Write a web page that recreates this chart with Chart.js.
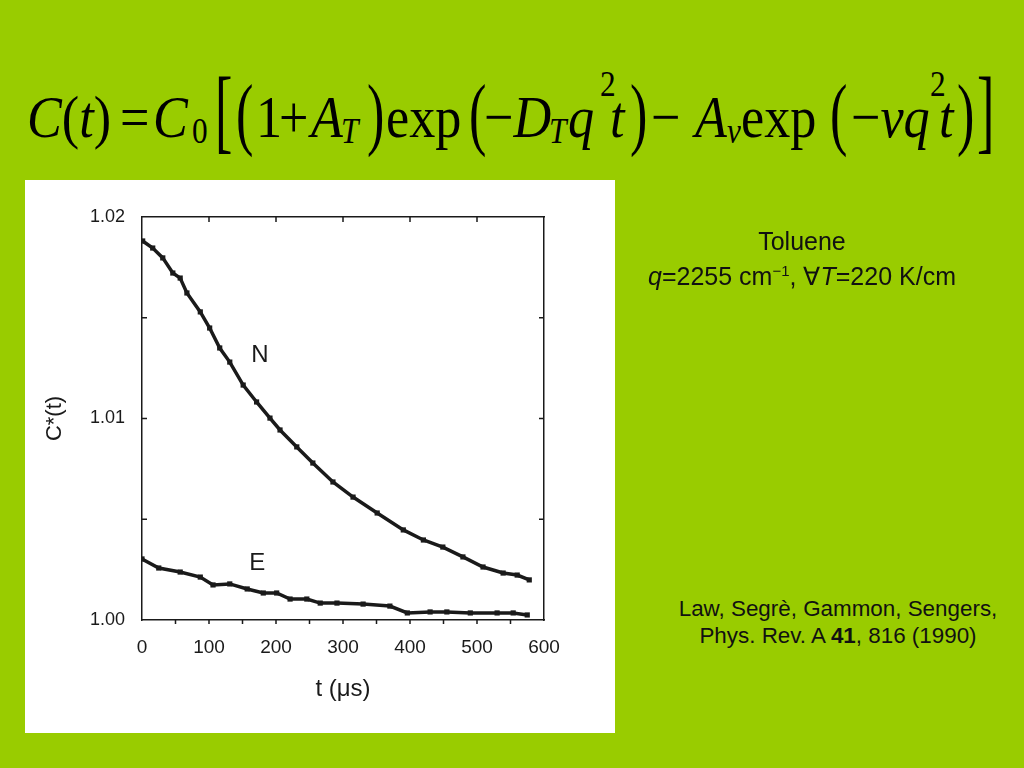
<!DOCTYPE html>
<html lang="en">
<head>
  <meta charset="UTF-8" />
  <title>C(t) Toluene</title>
  <script src="https://cdn.jsdelivr.net/npm/chart.js"></script>
  <style>
    html, body { margin: 0; padding: 0; }
    body { width: 1024px; height: 768px; background: #99cc00; position: relative; overflow: hidden;
           font-family: "Liberation Sans", Arial, sans-serif; color: #111; }
    #eq { position: absolute; left: 0; top: 0; width: 1024px; height: 170px;
          font-family: "Liberation Serif", "Times New Roman", serif; color: #000; }
    #eq span { position: absolute; white-space: nowrap; transform-origin: 0 0; transform: scaleX(0.87); }
    #eq .m { top: 87px; font-size: 60px; line-height: 60px; }
    #eq .s { top: 113px; font-size: 36px; line-height: 36px; }
    #eq .u { top: 66px; font-size: 36px; line-height: 36px; }
    #eq .p { top: 84px; font-size: 60px; line-height: 60px; transform-origin: 0 33px; transform: scale(0.87, 1.35); }
    #eq .b { top: 84px; font-size: 60px; line-height: 60px; transform-origin: 0 35px; transform: scale(0.87, 1.55); }
    #eq i { font-style: italic; }
    #box { position: absolute; left: 25px; top: 180px; width: 590px; height: 553px; background: #fff; }
    canvas { display: block; }
    .note { position: absolute; text-align: center; color: #111; }
    .note sup { font-size: 60%; vertical-align: 0.6em; }
  </style>
</head>
<body>
  <div id="eq">
    <span class="m" style="left:27px"><i>C</i>(<i>t</i>)</span>
    <span class="m" style="left:120px">=</span>
    <span class="m" style="left:153px"><i>C</i></span>
    <span class="s" style="left:192px">0</span>
    <span class="b" style="left:215px">[</span>
    <span class="p" style="left:236px">(</span>
    <span class="m" style="left:256px">1</span>
    <span class="m" style="left:279px">+</span>
    <span class="m" style="left:311px"><i>A</i></span>
    <span class="s" style="left:341px"><i>T</i></span>
    <span class="p" style="left:367px">)</span>
    <span class="m" style="left:386px">exp</span>
    <span class="p" style="left:469px">(</span>
    <span class="m" style="left:484px">−<i>D</i></span>
    <span class="s" style="left:549px"><i>T</i></span>
    <span class="m" style="left:568px"><i>q</i></span>
    <span class="u" style="left:600px">2</span>
    <span class="m" style="left:610px"><i>t</i></span>
    <span class="p" style="left:630px">)</span>
    <span class="m" style="left:651px">−</span>
    <span class="m" style="left:695px"><i>A</i></span>
    <span class="s" style="left:727px"><i>ν</i></span>
    <span class="m" style="left:741px">exp</span>
    <span class="p" style="left:830px">(</span>
    <span class="m" style="left:851px">−<i>ν</i><i>q</i></span>
    <span class="u" style="left:930px">2</span>
    <span class="m" style="left:939px"><i>t</i></span>
    <span class="p" style="left:957px">)</span>
    <span class="b" style="left:977px">]</span>
  </div>

  <div id="box"><canvas id="chart" width="590" height="553"></canvas></div>

  <div class="note" style="left:602px; top:226px; width:400px; font-size:25px; line-height:30px;">
    Toluene<br><i>q</i>=2255 cm<sup>−1</sup>, ∀<i>T</i>=220 K/cm
  </div>
  <div class="note" style="left:638px; top:595px; width:400px; font-size:22.4px; line-height:27px;">
    Law, Segrè, Gammon, Sengers,<br>Phys. Rev. A <b>41</b>, 816 (1990)
  </div>

  <script>
    // times in microseconds, values of C*(t)
    const tN = [1, 16, 31, 46, 57, 67, 87, 101, 116, 131, 151, 171, 191, 206, 231, 255, 285, 315, 351, 390, 420, 449, 479, 509, 539, 560, 578];
    const nVals = [1.01881, 1.01846, 1.01797, 1.01722, 1.01697, 1.01623, 1.01529, 1.01449, 1.0135, 1.0128, 1.01166, 1.01082, 1.01002,
                   1.00943, 1.00859, 1.00779, 1.00685, 1.0061, 1.00531, 1.00447, 1.00397, 1.00362, 1.00313, 1.00263, 1.00233, 1.00223, 1.00199];

    const tE = [0, 25, 57, 87, 106, 131, 157, 181, 201, 221, 246, 266, 291, 330, 370, 396, 430, 455, 490, 530, 554, 575];
    const eVals = [1.00303, 1.00258, 1.00238, 1.00213, 1.00174, 1.00179, 1.00154, 1.00134, 1.00134, 1.00104, 1.00104, 1.00084, 1.00084,
                   1.00079, 1.00069, 1.00035, 1.0004, 1.0004, 1.00035, 1.00035, 1.00035, 1.00025];

    const xTicks = [0, 100, 200, 300, 400, 500, 600];
    const yTicks = [1.00, 1.01, 1.02];

    // curve labels, in data coordinates
    const curveLabels = [
      { text: 'N', x: 176, y: 1.01315 },
      { text: 'E', x: 172, y: 1.00283 }
    ];

    const ink = '#1a1a1a';

    function pairs(xs, ys) { return xs.map((x, i) => ({ x: x, y: ys[i] })); }

    // inward tick marks on top, left and right, outward on the bottom, like the scan
    const frameTicks = {
      id: 'frameTicks',
      afterDraw(chart) {
        const c = chart.ctx, a = chart.chartArea;
        const xs = chart.scales.x, ys = chart.scales.y;
        c.save();
        c.strokeStyle = ink;
        c.lineWidth = 1.5;
        c.beginPath();
        xs.ticks.forEach(t => {
          const px = xs.getPixelForValue(t.value);
          if (t.value <= 0 || t.value >= 600) return;
          c.moveTo(px, a.bottom); c.lineTo(px, a.bottom + 4);
          if (t.value % 100 === 0) { c.moveTo(px, a.top); c.lineTo(px, a.top + 5); }
        });
        ys.ticks.forEach(t => {
          const py = ys.getPixelForValue(t.value);
          if (t.value <= 1.0001 || t.value >= 1.0199) return;
          c.moveTo(a.left, py); c.lineTo(a.left + 5, py);
          c.moveTo(a.right, py); c.lineTo(a.right - 5, py);
        });
        c.stroke();
        c.fillStyle = ink;
        c.font = '24px "Liberation Sans", Arial, sans-serif';
        c.textAlign = 'center';
        c.textBaseline = 'middle';
        curveLabels.forEach(l => c.fillText(l.text, xs.getPixelForValue(l.x), ys.getPixelForValue(l.y)));
        c.restore();
      }
    };

    const border = { display: true, color: ink, width: 1.5 };
    const quietGrid = { display: true, drawOnChartArea: false, drawTicks: false };
    const sans = '"Liberation Sans", Arial, sans-serif';

    const chart = new Chart(document.getElementById('chart').getContext('2d'), {
      type: 'line',
      data: {
        datasets: [
          { label: 'N', data: pairs(tN, nVals), borderColor: ink, backgroundColor: ink, borderWidth: 3.5,
            pointRadius: 1.2, pointStyle: 'rect', tension: 0 },
          { label: 'E', data: pairs(tE, eVals), borderColor: ink, backgroundColor: ink, borderWidth: 3.5,
            pointRadius: 1.2, pointStyle: 'rect', tension: 0 }
        ]
      },
      options: {
        responsive: false,
        animation: false,
        layout: { padding: { left: 0, top: 37, right: 71, bottom: 0 } },
        plugins: { legend: { display: false }, tooltip: { enabled: false } },
        scales: {
          x: {
            type: 'linear', position: 'bottom', min: 0, max: 600,
            afterFit: s => { s.height = 113; },
            border: border, grid: quietGrid,
            ticks: {
              stepSize: 50, color: ink, padding: 16, autoSkip: false, maxRotation: 0, minRotation: 0,
              font: { size: 19, family: sans },
              callback: v => xTicks.includes(v) ? String(v) : ''
            },
            title: { display: true, text: 't (μs)', color: ink, padding: { bottom: 29 },
                     font: { size: 24, family: sans } }
          },
          y: {
            type: 'linear', position: 'left', min: 1.0, max: 1.02,
            afterFit: s => { s.width = 117; },
            border: border, grid: quietGrid,
            ticks: {
              stepSize: 0.005, color: ink, padding: 17, autoSkip: false,
              font: { size: 18, family: sans },
              callback: v => yTicks.some(t => Math.abs(t - v) < 1e-6) ? v.toFixed(2) : ''
            },
            title: { display: true, text: 'C*(t)', color: ink, padding: { top: 17 },
                     font: { size: 22, family: sans } }
          },
          x2: {
            type: 'linear', position: 'top', min: 0, max: 600,
            afterFit: s => { s.height = 0; },
            border: border, grid: quietGrid, ticks: { display: false }
          },
          y2: {
            type: 'linear', position: 'right', min: 1.0, max: 1.02,
            afterFit: s => { s.width = 0; },
            border: border, grid: quietGrid, ticks: { display: false }
          }
        }
      },
      plugins: [frameTicks]
    });
  </script>
</body>
</html>
